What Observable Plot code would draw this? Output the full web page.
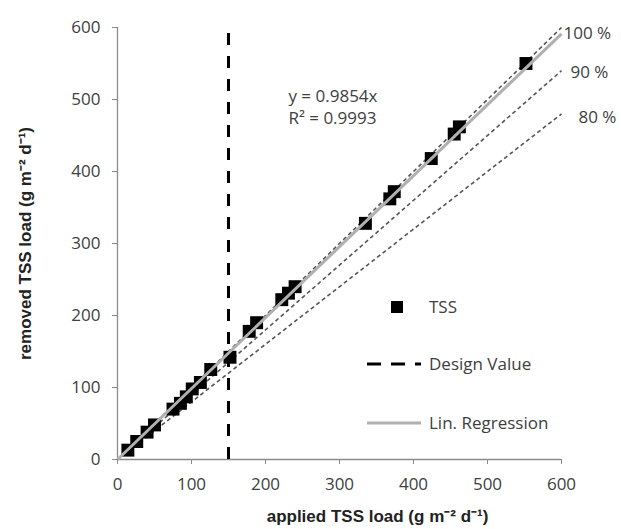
<!DOCTYPE html>
<html>
<head>
<meta charset="utf-8">
<script src="https://cdn.jsdelivr.net/npm/d3@7"></script>
<script src="https://cdn.jsdelivr.net/npm/@observablehq/plot@0.6"></script>
<style>
  html, body { margin: 0; padding: 0; background: #fff; }
  #chart { width: 621px; height: 529px; }
</style>
</head>
<body>
<div id="chart"></div>
<script>
// ---- data ----
const applied = [14, 26, 40, 50, 75, 85, 93, 101, 112, 126, 152, 178, 188, 222, 231, 240, 335, 368, 374, 424, 455, 462, 552];
const removed = [13, 25, 38, 48, 70, 78, 87, 98, 107, 125, 142, 178, 190, 222, 231, 240, 328, 362, 372, 418, 452, 462, 550];
const xTicks = [0, 100, 200, 300, 400, 500, 600];
const yTicks = [0, 100, 200, 300, 400, 500, 600];
const refRatios = [1.0, 0.9, 0.8];
const refLabels = ["100 %", "90 %", "80 %"];
const slope = 0.9854;
const r2 = 0.9993;
const designValue = 150;
const xLabel = "applied TSS load (g m\u207B\u00B2 d\u207B\u00B9)";
const yLabel = "removed TSS load (g m\u207B\u00B2 d\u207B\u00B9)";
const legendLabels = ["TSS", "Design Value", "Lin. Regression"];

const pts = applied.map((a, i) => ({x: a, y: removed[i]}));
const refs = refRatios.map((r, i) => ({r, label: refLabels[i]}));
const xMax = 600;

const textColor = "#404040";
const font = "'Open Sans', sans-serif";
const fs = 17;

const plot = Plot.plot({
  width: 621,
  height: 529,
  marginLeft: 117,
  marginRight: 60,
  marginTop: 27,
  marginBottom: 70,
  style: {fontFamily: font, fontSize: fs + "px", color: textColor, background: "white", overflow: "visible"},
  x: {domain: [0, 600]},
  y: {domain: [0, 600]},
  marks: [
    Plot.axisX({ticks: xTicks, tickSize: 5, tickPadding: 13, stroke: "#8c8c8c", fill: textColor, label: null, fontSize: fs}),
    Plot.axisY({ticks: yTicks, tickSize: 5, tickPadding: 12, stroke: "#8c8c8c", fill: textColor, label: null, fontSize: fs}),
    Plot.ruleX([0], {y1: 0, y2: 600, stroke: "#8c8c8c", strokeWidth: 1.3}),
    Plot.ruleY([0], {x1: 0, x2: 600, stroke: "#8c8c8c", strokeWidth: 1.3}),
    // reference lines 100/90/80 %
    Plot.link(refs, {x1: 0, y1: 0, x2: xMax, y2: d => xMax * d.r, stroke: "#555", strokeWidth: 1.6, strokeDasharray: "4,3"}),
    // design value
    Plot.ruleX([designValue], {y1: 0, y2: 600, stroke: "black", strokeWidth: 3, strokeDasharray: "12,11"}),
    // data
    Plot.dot(pts, {x: "x", y: "y", symbol: "square", r: 7.3, fill: "black", stroke: "none"}),
    // regression line
    Plot.link([slope], {x1: 0, y1: 0, x2: xMax, y2: d => xMax * d, stroke: "#b0b0b0", strokeWidth: 3}),
    // reference labels
    Plot.text([refs[0]], {x: xMax, y: d => xMax * d.r, text: "label", textAnchor: "start", dx: 2, dy: 6, fill: textColor}),
    Plot.text([refs[1]], {x: xMax, y: d => xMax * d.r, text: "label", textAnchor: "start", dx: 9, dy: 2, fill: textColor}),
    Plot.text([refs[2]], {x: xMax, y: d => xMax * d.r, text: "label", textAnchor: "start", dx: 17, dy: 4, fill: textColor}),
    // regression annotation
    Plot.text([`y = ${slope}x`], {x: 231, y: 504, text: d => d, textAnchor: "start", fill: textColor}),
    Plot.text([`R\u00B2 = ${r2}`], {x: 231, y: 473, text: d => d, textAnchor: "start", fill: textColor}),
    // axis titles
    Plot.text([xLabel], {frameAnchor: "bottom", dx: 38, dy: 62, text: d => d, textAnchor: "middle", fontWeight: "bold", fontSize: 17, fill: "#222", fontFamily: "'Liberation Sans', Arial, sans-serif"}),
    Plot.text([yLabel], {frameAnchor: "left", dx: -92, rotate: -90, text: d => d, textAnchor: "middle", fontWeight: "bold", fontSize: 17, fill: "#222", fontFamily: "'Liberation Sans', Arial, sans-serif"})
  ]
});

// ---- legend (drawn into the same svg) ----
const svg = d3.select(plot);
const lg = svg.append("g").attr("font-family", font).attr("font-size", fs).attr("fill", textColor).attr("text-anchor", "start");
const lx = 367, tx = 429;
const rows = [307, 364, 423];
lg.append("rect").attr("x", 397 - 6).attr("y", rows[0] - 6).attr("width", 12).attr("height", 12).attr("fill", "black");
lg.append("line").attr("x1", lx).attr("x2", 421).attr("y1", rows[1]).attr("y2", rows[1])
  .attr("stroke", "black").attr("stroke-width", 3).attr("stroke-dasharray", "14,10");
lg.append("line").attr("x1", lx).attr("x2", 421).attr("y1", rows[2]).attr("y2", rows[2])
  .attr("stroke", "#b0b0b0").attr("stroke-width", 3);
legendLabels.forEach((t, i) => {
  lg.append("text").attr("x", tx).attr("y", rows[i]).attr("dy", "0.35em").attr("text-anchor", "start").text(t);
});

document.getElementById("chart").appendChild(plot);
</script>
</body>
</html>
